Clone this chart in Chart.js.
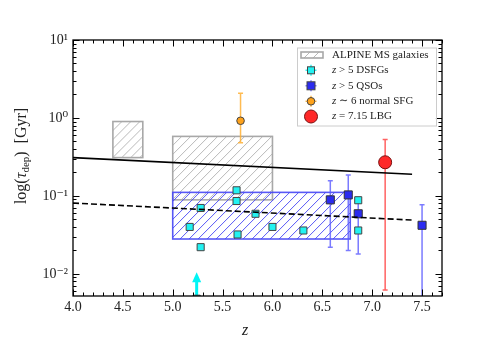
<!DOCTYPE html>
<html>
<head>
<meta charset="utf-8">
<script src="https://cdn.jsdelivr.net/npm/chart.js@4.4.0/dist/chart.umd.min.js"></script>
<style>
  html, body { margin: 0; padding: 0; background: #fff; }
  #wrap { width: 491px; height: 350px; }
</style>
</head>
<body>
<div id="wrap"><canvas id="chart" width="491" height="350"></canvas></div>
<script>
// axis ticks
const xTicks = [4.0, 4.5, 5.0, 5.5, 6.0, 6.5, 7.0, 7.5];
const yTicks = [0.01, 0.1, 1, 10];
const yTickLabels = ['10⁻²', '10⁻¹', '10⁰', '10¹'];

// z > 5 DSFGs
const dsfgZ   = [5.64, 5.64, 5.28, 5.83, 5.17, 6.00, 5.65, 5.28, 6.31, 6.86, 6.86];
const dsfgTau = [0.118, 0.086, 0.070, 0.059, 0.040, 0.040, 0.032, 0.022, 0.036, 0.088, 0.036];
// DSFG lower limit (arrow)
const limZ = [5.24];
const limTau = [0.0048];
const limTop = [0.0105];

// z > 5 QSOs
const qsoZ    = [6.58, 6.76, 6.86, 7.50];
const qsoTau  = [0.089, 0.103, 0.059, 0.042];
const qsoLow  = [0.022, 0.020, 0.018, 0.003];
const qsoHigh = [0.157, 0.186, 0.088, 0.077];

// z ~ 6 normal SFG
const sfgZ = [5.68];
const sfgTau = [0.92];
const sfgLow = [0.48];
const sfgHigh = [2.07];

// z = 7.15 LBG
const lbgZ = [7.13];
const lbgTau = [0.27];
const lbgLow = [0.0062];
const lbgHigh = [0.53];

// ALPINE MS galaxies boxes
const alpineZ0 = [4.4, 5.0];
const alpineZ1 = [4.7, 6.0];
const alpineLo = [0.31, 0.089];
const alpineHi = [0.90, 0.58];

// blue hatched region
const blueZ0 = [5.0];
const blueZ1 = [6.78];
const blueLo = [0.028];
const blueHi = [0.111];

// relations
const relZ = [4.0, 7.4];
const solidTau = [0.31, 0.19];
const dashedTau = [0.081, 0.049];

const legendLabels = [
  ['', 'ALPINE MS galaxies'],
  ['z', ' > 5 DSFGs'],
  ['z', ' > 5 QSOs'],
  ['z', ' ∼ 6 normal SFG'],
  ['z', ' = 7.15 LBG']
];

const SERIF = '"Liberation Serif", "DejaVu Serif", serif';
const pts = (xs, ys) => xs.map((x, i) => ({ x: x, y: ys[i] }));

function hatchRect(ctx, x0, y0, x1, y1, color, edge, step) {
  ctx.save();
  ctx.beginPath();
  ctx.rect(x0, y0, x1 - x0, y1 - y0);
  ctx.clip();
  ctx.strokeStyle = color;
  ctx.lineWidth = 1;
  const h = y1 - y0;
  ctx.beginPath();
  for (let x = x0 - h; x < x1 + step; x += step) {
    ctx.moveTo(x, y1);
    ctx.lineTo(x + h, y0);
  }
  ctx.stroke();
  ctx.restore();
  ctx.strokeStyle = edge;
  ctx.lineWidth = 1.6;
  ctx.strokeRect(x0, y0, x1 - x0, y1 - y0);
}

const boxesPlugin = {
  id: 'boxes',
  beforeDatasetsDraw(chart) {
    const { ctx, chartArea, scales: { x, y } } = chart;
    ctx.save();
    ctx.beginPath();
    ctx.rect(chartArea.left, chartArea.top, chartArea.right - chartArea.left, chartArea.bottom - chartArea.top);
    ctx.clip();
    alpineZ0.forEach((z0, i) => {
      hatchRect(ctx, x.getPixelForValue(z0), y.getPixelForValue(alpineHi[i]),
        x.getPixelForValue(alpineZ1[i]), y.getPixelForValue(alpineLo[i]),
        'rgb(185,185,185)', 'rgb(168,168,168)', 9);
    });
    blueZ0.forEach((z0, i) => {
      hatchRect(ctx, x.getPixelForValue(z0), y.getPixelForValue(blueHi[i]),
        x.getPixelForValue(blueZ1[i]), y.getPixelForValue(blueLo[i]),
        'rgba(70,70,245,0.9)', 'rgba(70,70,245,0.9)', 9);
    });

    // error bars
    const bars = (zs, lo, hi, color, cap) => {
      ctx.strokeStyle = color;
      ctx.lineWidth = 1.5;
      zs.forEach((z, i) => {
        const px = x.getPixelForValue(z);
        const pl = y.getPixelForValue(lo[i]);
        const ph = y.getPixelForValue(hi[i]);
        ctx.beginPath();
        ctx.moveTo(px, pl); ctx.lineTo(px, ph);
        ctx.moveTo(px - cap, pl); ctx.lineTo(px + cap, pl);
        ctx.moveTo(px - cap, ph); ctx.lineTo(px + cap, ph);
        ctx.stroke();
      });
    };
    bars(qsoZ, qsoLow, qsoHigh, 'rgba(90,90,255,0.8)', 2.5);
    bars(sfgZ, sfgLow, sfgHigh, 'rgba(255,175,50,0.85)', 2.5);
    bars(lbgZ, lbgLow, lbgHigh, 'rgba(255,70,70,0.85)', 2.5);

    // lower-limit arrow
    ctx.strokeStyle = '#00f5f5';
    ctx.fillStyle = '#00f5f5';
    ctx.lineWidth = 3;
    limZ.forEach((z, i) => {
      const px = x.getPixelForValue(z);
      const p0 = y.getPixelForValue(limTau[i]);
      const p1 = y.getPixelForValue(limTop[i]);
      ctx.beginPath();
      ctx.moveTo(px, p0); ctx.lineTo(px, p1 + 8);
      ctx.stroke();
      ctx.beginPath();
      ctx.moveTo(px, p1); ctx.lineTo(px - 4.5, p1 + 10); ctx.lineTo(px + 4.5, p1 + 10);
      ctx.closePath();
      ctx.fill();
    });
    ctx.restore();
  },
  afterDraw(chart) {
    const { ctx, chartArea: a, scales: { x, y } } = chart;
    ctx.save();
    // ticks inward on all sides
    ctx.strokeStyle = '#000';
    const tick = (x0, y0, x1, y1, w) => {
      ctx.lineWidth = w;
      ctx.beginPath(); ctx.moveTo(x0, y0); ctx.lineTo(x1, y1); ctx.stroke();
    };
    for (let k = 40; k <= 77; k++) {
      const v = k / 10;
      const px = Math.round(x.getPixelForValue(v)) + 0.5;
      const major = k % 5 === 0;
      const len = major ? 6.5 : 3.5;
      tick(px, a.bottom, px, a.bottom - len, 1);
      tick(px, a.top, px, a.top + len, 1);
    }
    for (let e = -3; e <= 1; e++) {
      for (let m = 1; m <= 9; m++) {
        const v = m * Math.pow(10, e);
        if (v < y.min || v > y.max) continue;
        const py = Math.round(y.getPixelForValue(v)) + 0.5;
        const len = m === 1 ? 6.5 : 3.5;
        tick(a.left, py, a.left + len, py, 1);
        tick(a.right, py, a.right - len, py, 1);
      }
    }
    ctx.lineWidth = 1.3;
    ctx.strokeRect(a.left, a.top, a.right - a.left, a.bottom - a.top);

    // axis titles
    ctx.fillStyle = '#222';
    ctx.textBaseline = 'middle';
    ctx.font = 'italic 16px ' + SERIF;
    ctx.textAlign = 'center';
    ctx.fillText('z', 245, 331);

    ctx.save();
    ctx.translate(21, 156);
    ctx.rotate(-Math.PI / 2);
    const parts = [
      ['log(', '16px ' + SERIF, 0],
      ['τ', 'italic 16px ' + SERIF, 0],
      ['dep', '11px ' + SERIF, 3],
      [')  [Gyr]', '16px ' + SERIF, 0]
    ];
    let total = 0;
    parts.forEach(p => { ctx.font = p[1]; total += ctx.measureText(p[0]).width; });
    let cx = -total / 2;
    ctx.textAlign = 'left';
    ctx.textBaseline = 'alphabetic';
    parts.forEach(p => {
      ctx.font = p[1];
      ctx.fillText(p[0], cx, 5 + p[2]);
      cx += ctx.measureText(p[0]).width;
    });
    ctx.restore();

    // legend
    const L = 297.5, T = 48, W = 139, H = 78;
    ctx.fillStyle = 'rgba(255,255,255,0.85)';
    ctx.fillRect(L, T, W, H);
    ctx.strokeStyle = '#cccccc';
    ctx.lineWidth = 1;
    ctx.strokeRect(L, T, W, H);
    const rowY = [54.7, 70.3, 85.8, 101.3, 116.5];
    const mx = 311;
    hatchRect(ctx, 301, 52, 323, 58, 'rgb(185,185,185)', 'rgb(168,168,168)', 9);
    const crossBar = (cy, color) => {
      ctx.strokeStyle = color; ctx.lineWidth = 1.5;
      ctx.beginPath();
      ctx.moveTo(mx - 5.5, cy); ctx.lineTo(mx + 5.5, cy);
      ctx.moveTo(mx, cy - 5.5); ctx.lineTo(mx, cy + 5.5);
      ctx.stroke();
    };
    const sq = (cy, fill, s) => {
      ctx.fillStyle = fill; ctx.fillRect(mx - s / 2, cy - s / 2, s, s);
      ctx.strokeStyle = '#444'; ctx.lineWidth = 1; ctx.strokeRect(mx - s / 2, cy - s / 2, s, s);
    };
    const circ = (cy, fill, r, edge) => {
      ctx.beginPath(); ctx.arc(mx, cy, r, 0, Math.PI * 2);
      ctx.fillStyle = fill; ctx.fill();
      ctx.strokeStyle = edge; ctx.lineWidth = 1; ctx.stroke();
    };
    crossBar(rowY[1], 'rgba(0,240,240,0.8)'); sq(rowY[1], '#22f2f2', 7);
    crossBar(rowY[2], 'rgba(90,90,255,0.8)'); sq(rowY[2], '#2b2bf0', 8);
    crossBar(rowY[3], 'rgba(255,175,50,0.85)'); circ(rowY[3], '#ffa21a', 3.8, '#444');
    crossBar(rowY[4], 'rgba(255,70,70,0.85)'); circ(rowY[4], '#ff2828', 6.5, '#7a1010');

    ctx.fillStyle = '#222';
    ctx.textAlign = 'left';
    ctx.textBaseline = 'middle';
    legendLabels.forEach((lab, i) => {
      let tx = 332;
      if (lab[0]) {
        ctx.font = 'italic 11px ' + SERIF;
        ctx.fillText(lab[0], tx, rowY[i]);
        tx += ctx.measureText(lab[0]).width;
      }
      ctx.font = '11px ' + SERIF;
      ctx.fillText(lab[1], tx, rowY[i]);
    });
    ctx.restore();
  }
};

new Chart(document.getElementById('chart').getContext('2d'), {
  type: 'scatter',
  data: {
    datasets: [
      { type: 'line', data: pts(relZ, solidTau), borderColor: '#000', borderWidth: 1.6, pointRadius: 0, fill: false },
      { type: 'line', data: pts(relZ, dashedTau), borderColor: '#000', borderWidth: 1.6, borderDash: [6, 3], pointRadius: 0, fill: false },
      { label: 'z > 5 DSFGs', data: pts(dsfgZ, dsfgTau), pointStyle: 'rect', pointRadius: 5, backgroundColor: '#22f2f2', borderColor: '#444', borderWidth: 1 },
      { label: 'limit', data: pts(limZ, limTau), pointStyle: 'rect', pointRadius: 5, backgroundColor: '#22f2f2', borderColor: '#444', borderWidth: 1, clip: 0 },
      { label: 'z > 5 QSOs', data: pts(qsoZ, qsoTau), pointStyle: 'rect', pointRadius: 5.7, backgroundColor: '#2b2bf0', borderColor: '#333', borderWidth: 1 },
      { label: 'z ~ 6 normal SFG', data: pts(sfgZ, sfgTau), pointStyle: 'circle', pointRadius: 3.8, backgroundColor: '#ffa21a', borderColor: '#444', borderWidth: 1 },
      { label: 'z = 7.15 LBG', data: pts(lbgZ, lbgTau), pointStyle: 'circle', pointRadius: 6.5, backgroundColor: '#ff2828', borderColor: '#7a1010', borderWidth: 1 }
    ]
  },
  options: {
    responsive: false,
    animation: false,
    layout: { padding: { top: 40, right: 49, left: 0, bottom: 0 } },
    plugins: { legend: { display: false }, tooltip: { enabled: false } },
    scales: {
      x: {
        type: 'linear', min: 4, max: 7.7,
        afterBuildTicks: s => { s.ticks = xTicks.map(v => ({ value: v })); },
        afterFit: s => { s.height = 54; },
        grid: { display: false, drawTicks: false },
        border: { display: false },
        ticks: { callback: v => v.toFixed(1), font: { family: SERIF, size: 14 }, color: '#222', maxRotation: 0, padding: 3 }
      },
      y: {
        type: 'logarithmic', min: 0.0052, max: 10,
        afterBuildTicks: s => { s.ticks = yTicks.map(v => ({ value: v })); },
        afterFit: s => { s.width = 73; },
        grid: { display: false, drawTicks: false },
        border: { display: false },
        ticks: { callback: v => yTickLabels[yTicks.indexOf(v)], font: { family: SERIF, size: 14 }, color: '#222', padding: 5 }
      }
    }
  },
  plugins: [boxesPlugin]
});
</script>
</body>
</html>
